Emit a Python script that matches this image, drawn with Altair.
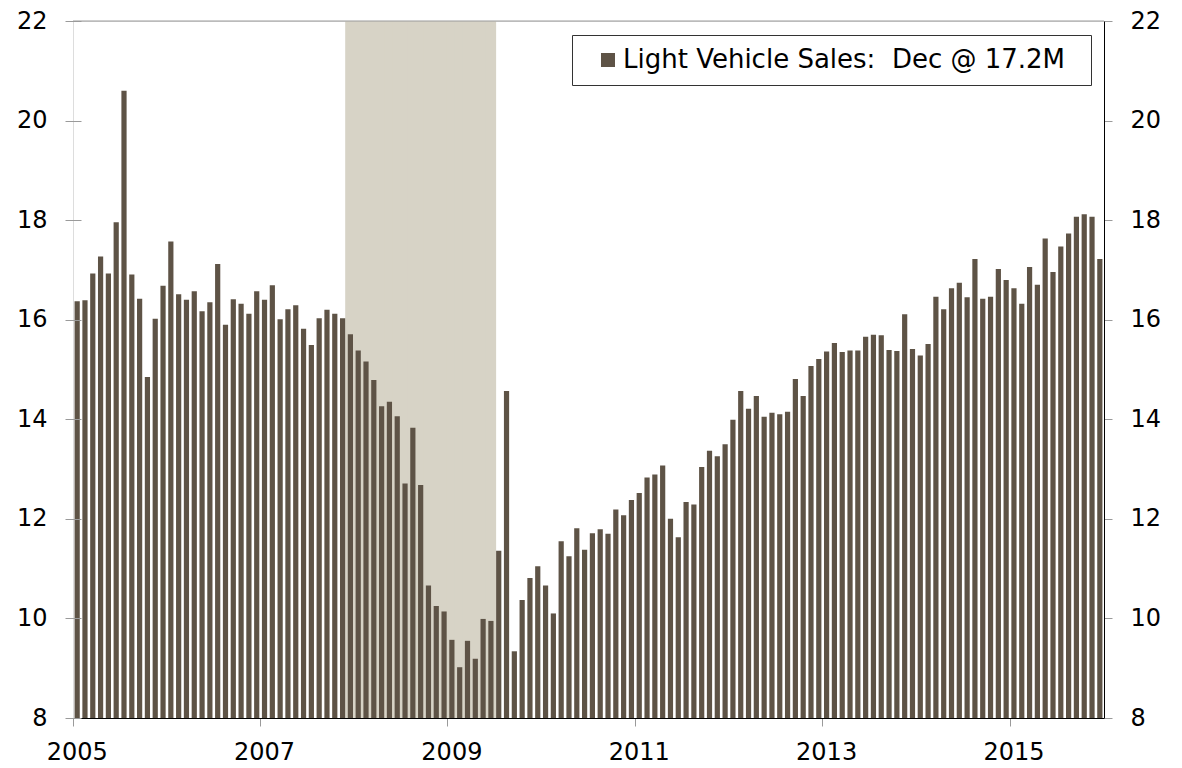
import altair as alt
import pandas as pd

years = [2005, 2006, 2007, 2008, 2009, 2010, 2011, 2012, 2013, 2014, 2015]
sales_2005 = [16.37, 16.39, 16.93, 17.27, 16.93, 17.96, 20.60, 16.91, 16.42, 14.85, 16.02, 16.68]
sales_2006 = [17.57, 16.51, 16.40, 16.57, 16.17, 16.35, 17.12, 15.90, 16.41, 16.32, 16.12, 16.57]
sales_2007 = [16.40, 16.69, 16.01, 16.21, 16.29, 15.82, 15.49, 16.03, 16.20, 16.12, 16.03, 15.71]
sales_2008 = [15.38, 15.16, 14.79, 14.26, 14.35, 14.06, 12.71, 13.83, 12.68, 10.66, 10.25, 10.14]
sales_2009 = [9.57, 9.02, 9.55, 9.19, 9.99, 9.95, 11.36, 14.57, 9.34, 10.37, 10.81, 11.05]
sales_2010 = [10.66, 10.10, 11.55, 11.25, 11.81, 11.38, 11.71, 11.79, 11.70, 12.19, 12.07, 12.38]
sales_2011 = [12.52, 12.83, 12.89, 13.07, 12.00, 11.63, 12.34, 12.29, 13.04, 13.37, 13.26, 13.50]
sales_2012 = [13.99, 14.57, 14.21, 14.47, 14.05, 14.13, 14.10, 14.15, 14.81, 14.47, 15.07, 15.21]
sales_2013 = [15.36, 15.53, 15.35, 15.38, 15.38, 15.66, 15.70, 15.69, 15.39, 15.37, 16.11, 15.41]
sales_2014 = [15.28, 15.51, 16.46, 16.21, 16.63, 16.74, 16.45, 17.22, 16.42, 16.46, 17.02, 16.80]
sales_2015 = [16.63, 16.32, 17.06, 16.70, 17.63, 16.96, 17.47, 17.73, 18.07, 18.12, 18.07, 17.22]
sales_by_year = [sales_2005, sales_2006, sales_2007, sales_2008, sales_2009, sales_2010,
                 sales_2011, sales_2012, sales_2013, sales_2014, sales_2015]

legend_label = "Light Vehicle Sales:\u00a0 Dec @ 17.2M"
recession_first = "2007-12"
recession_last = "2009-06"
y_ticks = [8, 10, 12, 14, 16, 18, 20, 22]
x_label_years = [2005, 2007, 2009, 2011, 2013, 2015]

BAR = "#5E5346"
SHADE = "#D7D3C6"
FONT = "DejaVu Sans"
TICK = "#9A9A9A"

rows = []
for yr, vals in zip(years, sales_by_year):
    for m, v in enumerate(vals, start=1):
        rows.append({"month": f"{yr}-{m:02d}", "sales": v, "series": legend_label})
df = pd.DataFrame(rows)
order = df["month"].tolist()
rec = df[(df["month"] >= recession_first) & (df["month"] <= recession_last)]
top_df = pd.DataFrame({"v": [y_ticks[-1]]})

W, H = 1031, 697
xscale = alt.Scale(domain=order, paddingInner=1 / 3, paddingOuter=0.2)
yscale = alt.Scale(domain=[y_ticks[0], y_ticks[-1]], zero=False, nice=False)

x_axis = alt.Axis(
    values=[f"{y}-01" for y in x_label_years],
    labelExpr="substring(datum.value, 0, 4)",
    labelAngle=0, labelFont=FONT, labelFontSize=24, labelColor="black",
    labelPadding=14, labelOffset=0, bandPosition=-0.25,
    tickColor=TICK, tickSize=8, domainColor="black", domainWidth=1,
    title=None, grid=False, zindex=1,
)

left_axis = alt.Axis(
    orient="left", values=y_ticks, offset=-8, tickSize=16, tickColor=TICK,
    domain=False, grid=False, labelFont=FONT, labelFontSize=24,
    labelColor="black", labelPadding=18, title=None, zindex=1,
)
right_axis = alt.Axis(
    orient="right", values=y_ticks, offset=0, tickSize=8, tickColor=TICK,
    domain=True, domainColor="black", domainWidth=1, grid=False,
    labelFont=FONT, labelFontSize=24, labelColor="black", labelPadding=18,
    title=None, zindex=1,
)

X = alt.X("month:O", sort=order, scale=xscale, axis=x_axis)

shade = alt.Chart(rec).mark_bar(color=SHADE, width=alt.RelativeBandSize(2)).encode(
    x=X,
    y=alt.YDatum(y_ticks[-1], type="quantitative", scale=yscale, axis=left_axis),
    y2=alt.Y2Datum(y_ticks[0]),
)

bars = alt.Chart(df).mark_bar().encode(
    x=X,
    y=alt.Y("sales:Q", scale=yscale, axis=right_axis),
    y2=alt.Y2Datum(y_ticks[0]),
    color=alt.Color(
        "series:N",
        scale=alt.Scale(range=[BAR]),
        legend=alt.Legend(
            orient="none", legendX=499, legendY=14,
            title="\u00a0", titleOrient="right", titleFontSize=2, titlePadding=14,
            symbolType="square", symbolSize=196, symbolStrokeWidth=0,
            symbolOffset=11, labelOffset=2,
            labelFont=FONT, labelFontSize=26, labelColor="black", labelLimit=0,
            strokeColor="#333333", fillColor="white", padding=12,
        ),
    ),
)

top_rule = alt.Chart(top_df).mark_rule(color=TICK, strokeWidth=1).encode(
    y=alt.Y("v:Q", scale=yscale, axis=None),
)

chart = (
    alt.layer(shade, bars, top_rule)
    .resolve_scale(y="independent")
    .properties(
        width=W, height=H,
        padding={"left": 65, "top": 13, "right": 70, "bottom": 46},
        autosize=alt.AutoSizeParams(type="none"),
    )
    .configure_view(stroke="black", strokeWidth=1)
    .configure(background="white")
)

chart.save("out.html", embed_options={"renderer": "svg", "actions": False})
